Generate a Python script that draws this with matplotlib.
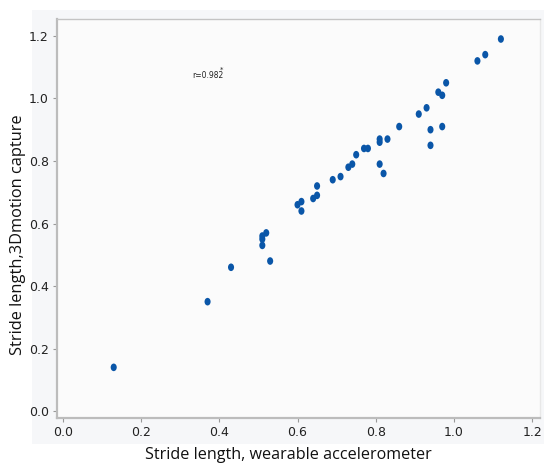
import matplotlib
matplotlib.use("Agg")
import matplotlib.pyplot as plt
from matplotlib.markers import MarkerStyle
from matplotlib.transforms import Affine2D
from matplotlib.patches import Rectangle

wearable = [0.13, 0.37, 0.43, 0.51, 0.52, 0.51, 0.51, 0.53, 0.60, 0.61, 0.61,
            0.64, 0.65, 0.65, 0.69, 0.71, 0.73, 0.74, 0.75, 0.77, 0.78, 0.81,
            0.81, 0.83, 0.81, 0.82, 0.86, 0.91, 0.93, 0.94, 0.94, 0.97, 0.96,
            0.97, 0.98, 1.06, 1.08, 1.12]
motion3d = [0.14, 0.35, 0.46, 0.56, 0.57, 0.55, 0.53, 0.48, 0.66, 0.67, 0.64,
            0.68, 0.69, 0.72, 0.74, 0.75, 0.78, 0.79, 0.82, 0.84, 0.84, 0.87,
            0.86, 0.87, 0.79, 0.76, 0.91, 0.95, 0.97, 0.90, 0.85, 0.91, 1.02,
            1.01, 1.05, 1.12, 1.14, 1.19]
ticks = [0.0, 0.2, 0.4, 0.6, 0.8, 1.0, 1.2]
tick_labels = ["0.0", "0.2", "0.4", "0.6", "0.8", "1.0", "1.2"]
r_text = "r=0.982"

fig = plt.figure(figsize=(5.5, 4.69), dpi=100)
fig.patch.set_facecolor("white")
bg = fig.add_axes([32/550, 1-444/469, (544-32)/550, (444-10)/469], zorder=-5)
bg.set_facecolor("#f6f7f9")
bg.set_xticks([])
bg.set_yticks([])
for s in bg.spines.values():
    s.set_visible(False)

ax = fig.add_axes([57/550, 1-418/469, (540-57)/550, (418-19)/469], zorder=1)
ax.set_facecolor("#fbfbfb")

mk = MarkerStyle("o", transform=Affine2D().scale(0.8, 1.0))
ax.scatter(wearable, motion3d, marker=mk, s=30, color="#0a56a8",
           edgecolors="none", zorder=3)

ax.set_xlim(-0.015, 1.22)
ax.set_ylim(-0.022, 1.254)
ax.set_xticks(ticks)
ax.set_xticklabels(tick_labels)
ax.set_yticks(ticks)
ax.set_yticklabels(tick_labels)

tickfont = ["Liberation Sans Narrow", "DejaVu Sans Condensed", "DejaVu Sans"]
for lab in ax.get_xticklabels() + ax.get_yticklabels():
    lab.set_family(tickfont)
    lab.set_fontsize(9)
    lab.set_color("#222222")
ax.tick_params(axis="both", length=3, width=0.8, color="#999999", pad=3)

for side in ["left", "bottom"]:
    ax.spines[side].set_color("#bcbcbc")
    ax.spines[side].set_linewidth(1.6)
ax.spines["top"].set_color("#c4c4c4")
ax.spines["top"].set_linewidth(1.0)
ax.spines["right"].set_color("#e8e8e8")
ax.spines["right"].set_linewidth(1.0)

ax.text(0.33, 1.072, r_text, fontsize=5.5, va="center", ha="left",
        family=["DejaVu Sans"], color="#222222")
ax.text(0.402, 1.092, "*", fontsize=5, va="center", ha="left", color="#222222")

labfont = ["Open Sans", "DejaVu Sans"]
fig.text(288/550, 1-455/469, "Stride length, wearable accelerometer",
         ha="center", va="center", fontsize=11.6, family=labfont, color="#111111")
fig.text(18/550, 1-235/469, "Stride length,3Dmotion capture",
         ha="center", va="center", rotation=90, fontsize=11.8, family=labfont,
         color="#111111")

fig.savefig("out.png", dpi=100)
